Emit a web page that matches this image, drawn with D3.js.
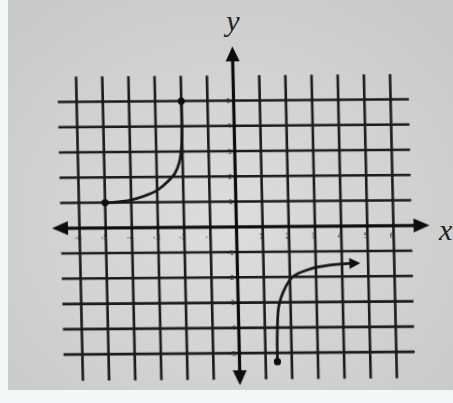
<!DOCTYPE html>
<html><head><meta charset="utf-8">
<script src="https://cdn.jsdelivr.net/npm/d3@7"></script>
<style>html,body{margin:0;padding:0;background:#d4d4d4;}svg{display:block;}</style>
</head><body>
<svg id="c" width="453" height="403"></svg>
<script>
// ---- data ----
const xTicks = [-6,-5,-4,-3,-2,-1,1,2,3,4,5,6];
const yTicks = [5,4,3,2,1,-1,-2,-3,-4,-5];
const gridX = [-6,-5,-4,-3,-2,-1,1,2,3,4,5,6];
const gridY = [-5,-4,-3,-2,-1,1,2,3,4,5];
const leftCurveX = [-5, -4.5, -4, -3.5, -3, -2.6, -2.3, -2.12, -2.03, -2, -2];
const leftCurveY = [1, 1.03, 1.1, 1.25, 1.47, 1.8, 2.15, 2.6, 3.2, 4, 5];
const rightCurveX = [1.45, 1.47, 1.55, 1.75, 2.1, 2.75, 3.5, 4.55];
const rightCurveY = [-5.35, -4.2, -3.15, -2.55, -2.0, -1.7, -1.55, -1.47];

const svg = d3.select("#c");
const W = 453, H = 403;
const x = d3.scaleLinear().domain([-6, 6]).range([79.5, 393.5]);
const y = d3.scaleLinear().domain([-5, 5]).range([355, 102.5]);

// background (photo look)
const defs = svg.append("defs");
const rg = defs.append("radialGradient").attr("id","bg").attr("cx","50%").attr("cy","55%").attr("r","65%");
rg.append("stop").attr("offset","0%").attr("stop-color","#dddddd");
rg.append("stop").attr("offset","100%").attr("stop-color","#cacaca");
defs.append("filter").attr("id","soft").append("feGaussianBlur").attr("stdDeviation",0.7);
svg.append("rect").attr("width",W).attr("height",H).attr("fill","url(#bg)");
svg.append("rect").attr("x",0).attr("y",0).attr("width",8).attr("height",H).attr("fill","#f3f7f7");
svg.append("rect").attr("x",0).attr("y",390).attr("width",W).attr("height",13).attr("fill","#f3f7f7");

const y0 = y(0);
const g = svg.append("g")
  .attr("filter","url(#soft)")
  .attr("transform", `translate(0,${y0}) skewX(1.3) skewY(-0.45) translate(0,${-y0})`);

const ink = "#1a1a1a";
// grid
g.append("g").selectAll("line").data(gridX).join("line")
  .attr("x1", d => x(d)).attr("x2", d => x(d))
  .attr("y1", y(6)).attr("y2", y(-6.05))
  .attr("stroke", ink).attr("stroke-width", 2.6);
g.append("g").selectAll("line").data(gridY).join("line")
  .attr("x1", x(-6.72)).attr("x2", x(6.7))
  .attr("y1", d => y(d)).attr("y2", d => y(d))
  .attr("stroke", ink).attr("stroke-width", 2.6);

// axes
const ax = g.append("g");
ax.append("line").attr("x1", x(-6.6)).attr("x2", x(6.9)).attr("y1", y(0)).attr("y2", y(0))
  .attr("stroke", "#111").attr("stroke-width", 3.2);
ax.append("line").attr("x1", x(0)).attr("x2", x(0)).attr("y1", y(6.7)).attr("y2", y(-5.8))
  .attr("stroke", "#111").attr("stroke-width", 3.2);
function arrow(tx, ty, dir, len, half){
  const bx = tx - len*Math.cos(dir), by = ty - len*Math.sin(dir);
  const px = -Math.sin(dir)*half, py = Math.cos(dir)*half;
  return `M${tx},${ty}L${bx+px},${by+py}L${bx-px},${by-py}Z`;
}
ax.append("path").attr("d", arrow(x(-7.05), y(0), Math.PI, 16, 7)).attr("fill","#111");
ax.append("path").attr("d", arrow(x(7.38), y(0), 0, 16, 7)).attr("fill","#111");
ax.append("path").attr("d", arrow(x(0), y(7.15), -Math.PI/2, 15, 7)).attr("fill","#111");
ax.append("path").attr("d", arrow(x(0), y(-6.27), Math.PI/2, 15, 7)).attr("fill","#111");

// tick labels
g.append("g").selectAll("text").data(xTicks).join("text")
  .attr("x", d => x(d) - 1.5).attr("y", y(0) + 12)
  .attr("text-anchor","middle").attr("font-family","DejaVu Sans, sans-serif")
  .attr("font-size", 7.5).attr("fill","#2a2a2a").text(d => d);
g.append("g").selectAll("text").data(yTicks).join("text")
  .attr("x", x(0) - 3).attr("y", d => y(d) + 2.5)
  .attr("text-anchor","end").attr("font-family","DejaVu Sans, sans-serif")
  .attr("font-size", 7).attr("fill","#2a2a2a").text(d => d);

// curves
const line = d3.line().x(d => x(d[0])).y(d => y(d[1])).curve(d3.curveCatmullRom.alpha(0.5));
const leftPts = leftCurveX.map((v,i) => [v, leftCurveY[i]]);
const rightPts = rightCurveX.map((v,i) => [v, rightCurveY[i]]);
g.append("path").attr("d", line(leftPts)).attr("fill","none").attr("stroke","#151515").attr("stroke-width",2.7);
g.append("path").attr("d", line(rightPts)).attr("fill","none").attr("stroke","#151515").attr("stroke-width",2.7);
// endpoints
g.selectAll("circle.dot").data([leftPts[0], leftPts[leftPts.length-1], rightPts[0]]).join("circle")
  .attr("class","dot").attr("cx", d => x(d[0])).attr("cy", d => y(d[1])).attr("r", 3.6).attr("fill","#111");
// arrow on right curve
const last = rightPts[rightPts.length-1], prev = rightPts[rightPts.length-2];
const ang = Math.atan2(y(last[1]) - y(prev[1]), x(last[0]) - x(prev[0]));
g.append("path").attr("d", arrow(x(last[0]) + 4, y(last[1]), ang*0.3, 11, 5.5)).attr("fill","#111");

// axis letters
svg.append("text").attr("x", 233).attr("y", 31).attr("text-anchor","middle")
  .attr("font-family","Liberation Serif, serif").attr("font-style","italic")
  .attr("font-size", 30).attr("fill","#222").text("y");
svg.append("text").attr("x", 439).attr("y", 240)
  .attr("font-family","Liberation Serif, serif").attr("font-style","italic")
  .attr("font-size", 30).attr("fill","#222").text("x");
</script>
</body></html>
